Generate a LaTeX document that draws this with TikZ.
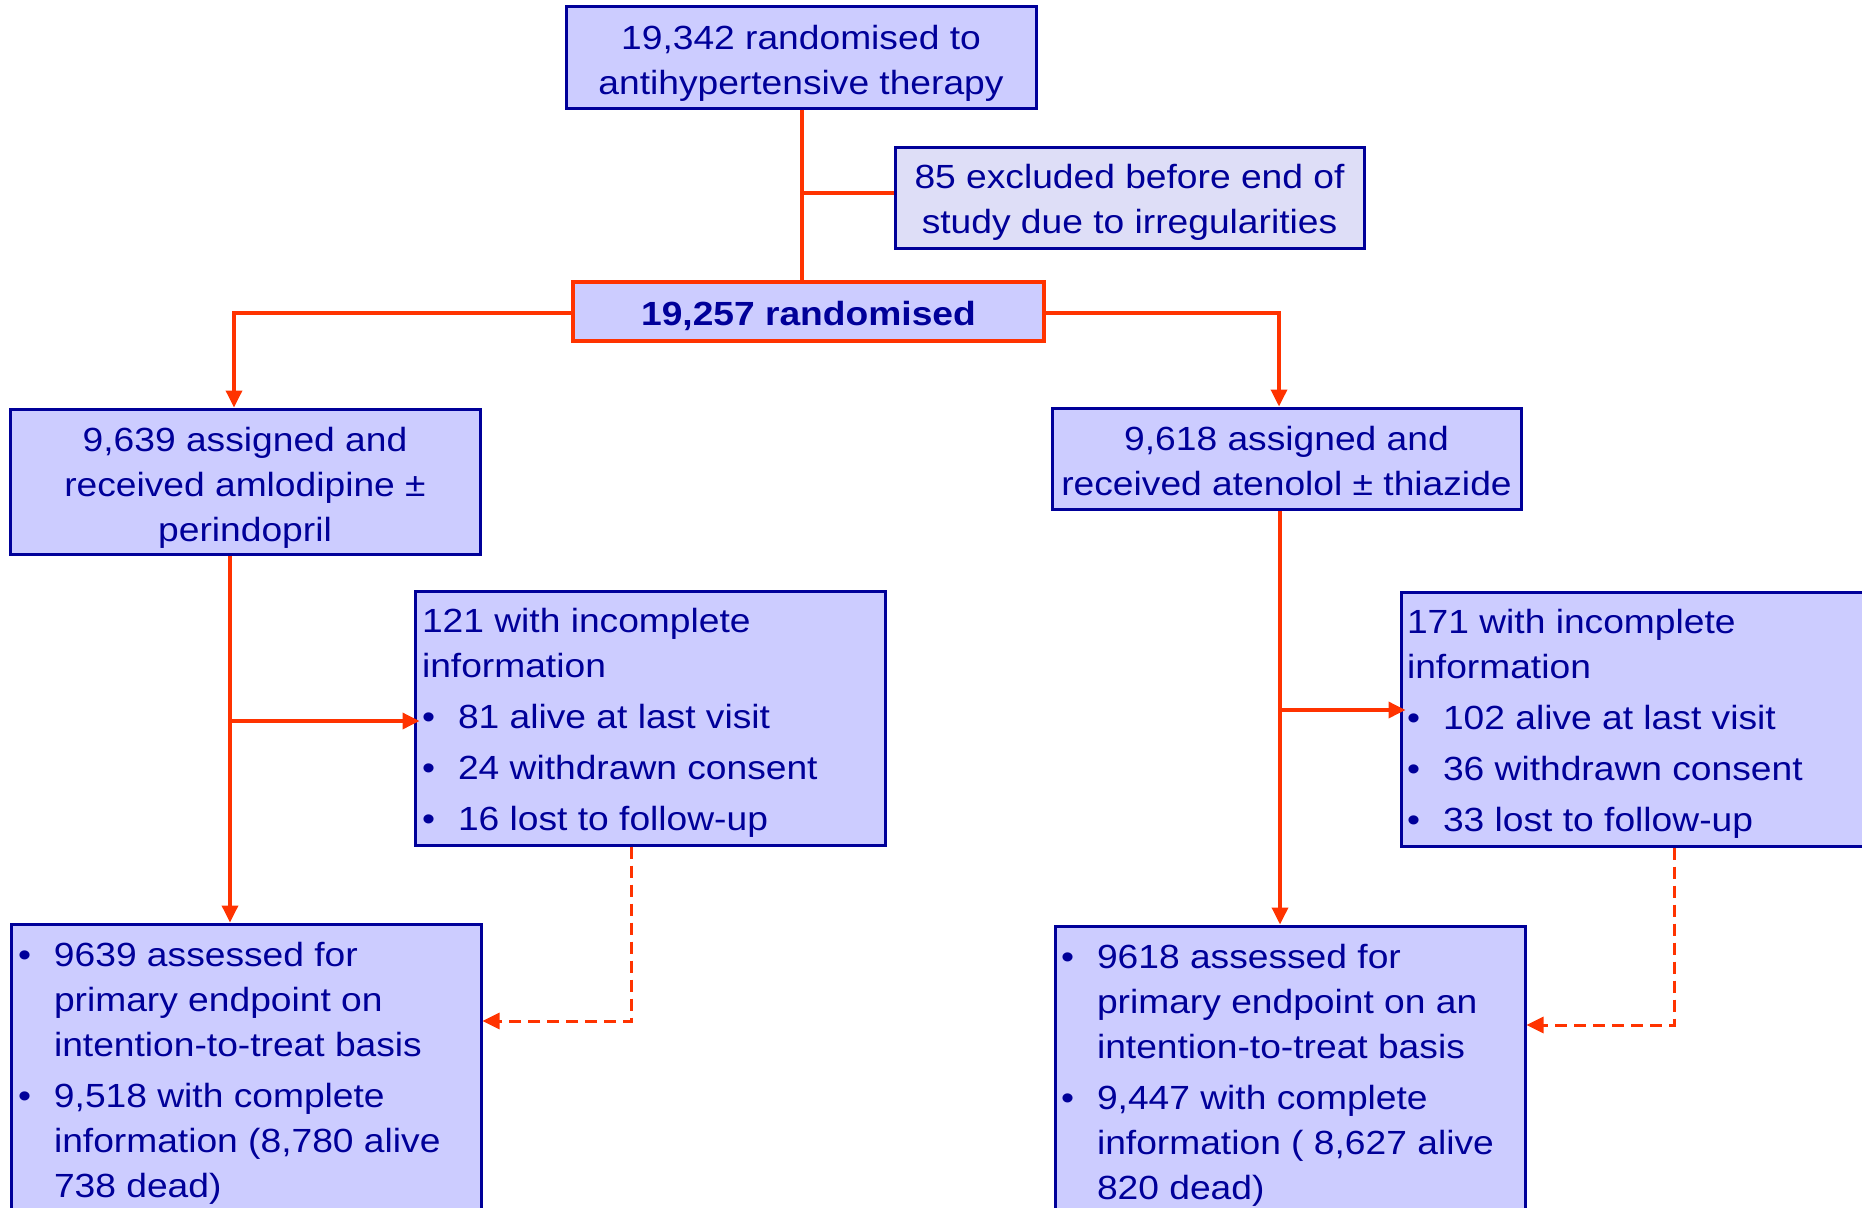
\documentclass[tikz,border=0pt]{standalone}
\usepackage{fontspec}
\setmainfont{Liberation Sans}[FakeStretch=1.11]
\usetikzlibrary{arrows.meta}
\definecolor{boxfill}{RGB}{204,204,255}
\definecolor{exfill}{RGB}{222,222,247}
\definecolor{navy}{RGB}{0,0,153}
\definecolor{redline}{RGB}{255,51,0}
\newcommand\fs{\fontsize{33.5}{45}\selectfont}
\newcommand\tb[3]{\raisebox{#1}[0pt][0pt]{\makebox[0pt]{\parbox[t]{#2}{\fs #3}}}}
\newcommand\bul{\makebox[36pt][l]{\textbullet}}
\newcommand\ind{\hspace*{36pt}}
\tikzset{
  box/.style={rectangle, draw=navy, line width=3pt, fill=boxfill, text=navy, inner sep=0pt},
  conn/.style={draw=redline, line width=3.5pt},
  arr/.style={conn, -{Triangle[length=17pt,width=16pt]}},
  dasharr/.style={arr, line width=3pt, dash pattern=on 12pt off 7pt}
}
\begin{document}
\begin{tikzpicture}[x=1pt,y=-1pt]
\useasboundingbox (0,0) rectangle (1862,1207);
\fill[white] (0,0) rectangle (1862,1207);
\clip (0,0) rectangle (1862,1207);

\node[box, minimum width=470pt, minimum height=101pt] (top) at (801,57.5)
  {\tb{8.5pt}{466pt}{\centering 19,342 randomised to\\antihypertensive therapy}};
\node[box, fill=exfill, minimum width=469pt, minimum height=101pt] (excl) at (1129.5,197.5)
  {\tb{9.5pt}{466pt}{\centering 85 excluded before end of\\study due to irregularities}};
\node[box, draw=redline, line width=4pt, minimum width=471pt, minimum height=59pt] (rand) at (808.5,311.5)
  {\tb{-13.5pt}{466pt}{\centering\bfseries 19,257 randomised}};
\node[box, minimum width=470pt, minimum height=145pt] (aL) at (245,481.5)
  {\tb{30.5pt}{466pt}{\centering 9,639 assigned and\\received amlodipine ±\\perindopril}};
\node[box, minimum width=469pt, minimum height=101pt] (aR) at (1286.5,458.5)
  {\tb{8.5pt}{468pt}{\centering 9,618 assigned and\\received atenolol ± thiazide}};
\node[box, minimum width=470pt, minimum height=254pt] (incL) at (650,718)
  {\tb{86pt}{456pt}{\raggedright 121 with incomplete\\information\\[6pt]\bul 81 alive at last visit\\[6pt]\bul 24 withdrawn consent\\[6pt]\bul 16 lost to follow-up}};
\node[box, minimum width=472pt, minimum height=254pt] (incR) at (1637,719)
  {\tb{86pt}{460pt}{\raggedright 171 with incomplete\\information\\[6pt]\bul 102 alive at last visit\\[6pt]\bul 36 withdrawn consent\\[6pt]\bul 33 lost to follow-up}};
\node[box, minimum width=470pt, minimum height=316pt] (bL) at (246,1082)
  {\tb{116pt}{456pt}{\raggedright \bul 9639 assessed for\\\ind primary endpoint on\\\ind intention-to-treat basis\\[6pt]\bul 9,518 with complete\\\ind information (8,780 alive\\\ind 738 dead)}};
\node[box, minimum width=470pt, minimum height=314pt] (bR) at (1290,1083)
  {\tb{115pt}{458pt}{\raggedright \bul 9618 assessed for\\\ind primary endpoint on an\\\ind intention-to-treat basis\\[6pt]\bul 9,447 with complete\\\ind information ( 8,627 alive\\\ind 820 dead)}};

\coordinate (vT) at (802,193);
\coordinate (hL) at (234,313);
\coordinate (hR) at (1279,313);
\coordinate (vL) at (230,721);
\coordinate (vR) at (1280,710);
\coordinate (dL) at (631.5,1021);
\coordinate (dR) at (1674,1025);

\draw[conn] (top.south -| vT) -- (rand.north -| vT);
\draw[conn] (vT) -- (excl.west |- vT);
\draw[arr] (rand.west |- hL) -- (hL) -- (aL.north -| hL);
\draw[arr] (rand.east |- hR) -- (hR) -- (aR.north -| hR);
\draw[arr] (aL.south -| vL) -- (bL.north -| vL);
\draw[arr, shorten >=-6pt] (vL) -- (incL.west |- vL);
\draw[arr] (aR.south -| vR) -- (bR.north -| vR);
\draw[arr, shorten >=-6pt] (vR) -- (incR.west |- vR);
\draw[dasharr] (incL.south -| dL) -- (dL) -- (bL.east |- dL);
\draw[dasharr] (incR.south -| dR) -- (dR) -- (bR.east |- dR);
\end{tikzpicture}
\end{document}
